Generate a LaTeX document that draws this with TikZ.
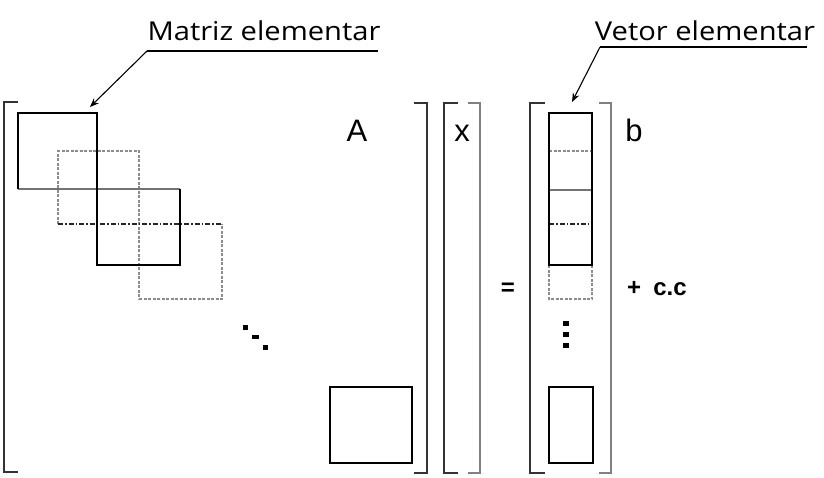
\documentclass[tikz,border=0pt]{standalone}
\usepackage{fontspec}
\setmainfont{Open Sans}
\newfontfamily\labfont[FakeStretch=1.12]{Open Sans}
\newfontfamily\arial{Liberation Sans}
\usetikzlibrary{arrows.meta}
\tikzset{
  blk/.style={draw=black, line width=1.3pt},
  gsolid/.style={draw=black!55, line width=1.1pt},
  gdash/.style={draw=black!45, dash pattern=on 3pt off 1.5pt, line width=1.1pt},
  ddot/.style={draw=black!85, dash pattern=on 5pt off 2pt on 1.5pt off 2pt, line width=1.2pt},
  brk/.style={draw=black!80, line width=1.3pt},
  gbrk/.style={draw=black!50, line width=1.3pt},
  box/.style={inner sep=0pt, outer sep=0pt, anchor=north west},
  lab/.style={font=\labfont\fontsize{26}{30}\selectfont, inner sep=0pt},
  lead/.style={draw=black, line width=1.1pt},
  arr/.style={draw=black, line width=1.1pt, -{Stealth[length=9pt,width=7pt]}},
  dotsq/.style={fill=black, draw=none},
  big/.style={font=\arial\fontsize{31}{36}\selectfont, inner sep=0pt, anchor=base},
  mid/.style={font=\arial\bfseries\fontsize{24}{28}\selectfont, inner sep=0pt, anchor=base}
}
\begin{document}
\begin{tikzpicture}[x=1pt,y=-1pt]
\useasboundingbox[fill=white] (0,0) rectangle (824,477);

% ---------- brackets ----------
\draw[brk] (18,102) -- (4,102) -- (4,472) -- (18,472);
\draw[brk] (414,103) -- (427,103) -- (427,473) -- (414,473);
\draw[brk] (458,103) -- (444,103) -- (444,473) -- (458,473);
\draw[gbrk] (468,103) -- (480,103) -- (480,473) -- (468,473);
\draw[brk] (545,103) -- (530,103) -- (530,473) -- (545,473);
\draw[gbrk] (599,103) -- (611,103) -- (611,473) -- (599,473);

% ---------- matrix blocks ----------
\node[box, minimum width=79pt, minimum height=76pt] (m1) at (18,113) {};
\node[box, minimum width=81pt, minimum height=73pt] (m2) at (58,151) {};
\node[box, minimum width=83pt, minimum height=76pt] (m3) at (97,189) {};
\node[box, minimum width=83pt, minimum height=75pt] (m4) at (139,224) {};
\node[box, minimum width=82pt, minimum height=76pt] (mN) at (330,387) {};

% block 2 (dashed gray top/sides)
\draw[gdash] (m2.south west) -- (m2.north west) -- (m2.north east) -- (m4.south west);
% block 4 (dashed right/bottom)
\draw[gdash] (m4.south west) -- (m4.south east) -- (m4.north east);
% dash-dot shared line
\draw[ddot] (m2.south west) -- (m4.north east);
% block 1
\draw[gsolid] (m1.south west) -- (m3.north east);
\draw[blk] (m1.south west) -- (m1.north west) -- (m1.north east) -- (m3.north west);
% block 3
\draw[blk] (m3.north west) -- (m3.south west) -- (m3.south east) -- (m3.north east);
% last block
\draw[blk] (mN.north west) rectangle (mN.south east);

% diagonal dots
\fill[dotsq] (243,325) rectangle (248,330);
\fill[dotsq] (252,335) rectangle (259,339);
\fill[dotsq] (263,345) rectangle (268,350);

% ---------- vector blocks ----------
\node[box, minimum width=43pt, minimum height=152pt] (v1) at (549,113) {};
\node[box, minimum width=43pt, minimum height=34pt] (v2) at (549,265) {};
\node[box, minimum width=44pt, minimum height=76pt] (vN) at (549,387) {};

\draw[gdash] (549,151) -- (592,151);
\draw[gsolid] (549,190) -- (592,190);
\draw[ddot] (549,224) -- (592,224);
\draw[gdash] (v2.north west) -- (v2.south west) -- (v2.south east) -- (v2.north east);
\draw[blk] (v1.north west) rectangle (v1.south east);
\draw[blk] (vN.north west) rectangle (vN.south east);

\fill[dotsq] (563,321) rectangle (569,326);
\fill[dotsq] (563,332) rectangle (569,337);
\fill[dotsq] (563,343) rectangle (569,348);

% ---------- letters ----------
\node[big] (tA) at (357,141) {A};
\node[big] (tx) at (462,141) {x};
\node[big] (tb) at (634,141) {b};
\node[mid] (teq) at (508,295) {=};
\node[mid] (tplus) at (634,295) {+};
\node[mid] (tcc) at (670,295) {c.c};

% ---------- callouts ----------
\node[lab] (lm) at (264,31) {Matriz elementar};
\coordinate (lmL) at (147,51);
\coordinate (lmR) at (378,51);
\coordinate (lmT) at ([shift={(-7pt,6pt)}]m1.north east);
\draw[lead] (lmL) -- (lmR);
\draw[arr] (lmL) -- (lmT);

\node[lab] (lv) at (705,31) {Vetor elementar};
\coordinate (lvL) at (600,47);
\coordinate (lvR) at (807,47);
\coordinate (lvT) at (572,102);
\draw[lead] (lvL) -- (lvR);
\draw[arr] (lvL) -- (lvT);
\end{tikzpicture}
\end{document}
